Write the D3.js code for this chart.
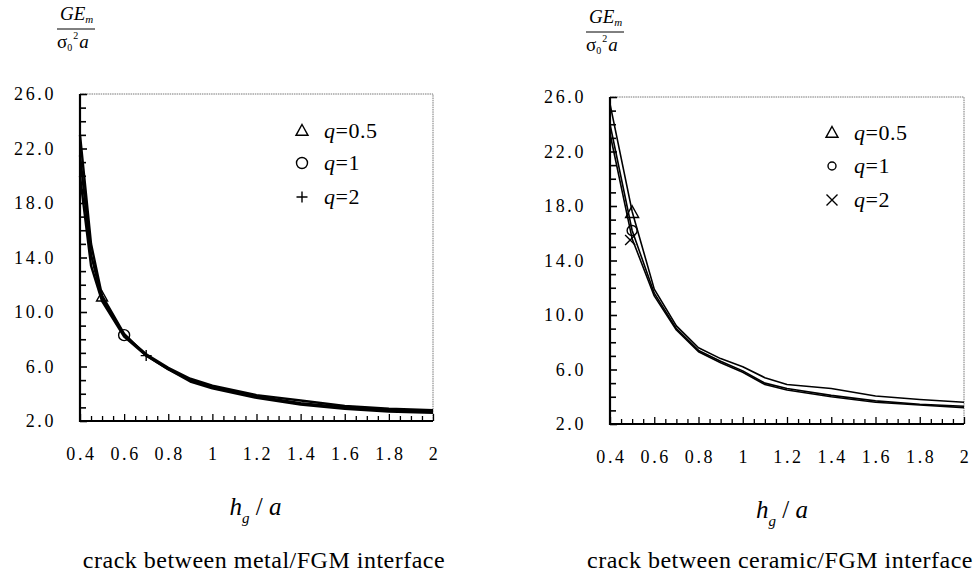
<!DOCTYPE html>
<html><head><meta charset="utf-8">
<script src="https://cdn.jsdelivr.net/npm/d3@7"></script>
<style>
body{margin:0;background:#fff;}
svg{display:block;}
text{font-family:"Liberation Serif","Times New Roman",serif;fill:#000;}
</style></head>
<body><svg id="c" width="977" height="578"></svg>
<script>
// ---- data ----
const xTicks = [0.4,0.6,0.8,1,1.2,1.4,1.6,1.8,2];
const xTickLabels = ["0.4","0.6","0.8","1","1.2","1.4","1.6","1.8","2"];
const yTicks = [2,6,10,14,18,22,26];
const yTickLabels = ["2.0","6.0","10.0","14.0","18.0","22.0","26.0"];
const seriesNames = ["q=0.5","q=1","q=2"];

// metal/FGM interface
const metalX = [0.4,0.45,0.5,0.6,0.7,0.8,0.9,1.0,1.2,1.4,1.6,1.8,2.0];
const metalQ05 = [23.0,15.0,11.2,8.4,6.8,5.8,5.0,4.5,3.8,3.3,3.0,2.8,2.7];
const metalQ1  = [21.5,14.2,11.0,8.3,6.9,5.9,5.1,4.6,3.9,3.5,3.1,2.9,2.8];
const metalQ2  = [20.0,13.4,10.8,8.2,6.8,5.8,4.9,4.4,3.7,3.2,2.9,2.7,2.6];
const metalMarkers = [[0.5,11.1],[0.6,8.3],[0.7,6.8]];

// ceramic/FGM interface
const ceramicX = [0.4,0.5,0.6,0.7,0.8,0.9,1.0,1.1,1.2,1.4,1.6,1.8,2.0];
const ceramicQ05 = [25.5,17.6,11.9,9.2,7.6,6.8,6.2,5.4,4.9,4.6,4.05,3.8,3.6];
const ceramicQ1  = [24.0,16.2,11.6,9.0,7.4,6.6,5.9,5.0,4.6,4.1,3.7,3.45,3.3];
const ceramicQ2  = [23.3,15.6,11.4,8.9,7.3,6.5,5.8,4.9,4.5,4.0,3.6,3.4,3.2];
const ceramicMarkers = [[0.5,17.5],[0.5,16.2],[0.5,15.5]];

const captions = ["crack between metal/FGM interface","crack between ceramic/FGM interface"];

// ---- drawing ----
const svg = d3.select("#c");

function drawPanel(p){
  const g = svg.append("g");
  const x = d3.scaleLinear().domain([0.4,2]).range([p.x0,p.x1]);
  const y = d3.scaleLinear().domain([2,26]).range([p.y1,p.y0]);

  // top/right dotted frame
  g.append("path").attr("d",`M${p.x0},${p.y0}H${p.x1}V${p.y1}`)
    .attr("fill","none").attr("stroke","#777").attr("stroke-width",1).attr("stroke-dasharray","1.5,0.8");

  // ticks
  const yMinor = d3.range(3,26,1).filter(v=>(v-2)%4!==0);
  g.append("g").attr("transform",`translate(${p.x0},0)`)
    .call(d3.axisLeft(y).tickValues(yMinor).tickSize(-6).tickFormat(""))
    .call(a=>a.select(".domain").remove())
    .selectAll("line").attr("stroke","#000").attr("stroke-width",1.6);
  g.append("g").attr("transform",`translate(${p.x0},0)`)
    .call(d3.axisLeft(y).tickValues(yTicks).tickSize(-7).tickFormat(""))
    .call(a=>a.select(".domain").remove())
    .selectAll("line").attr("stroke","#000").attr("stroke-width",1.6);
  const xMinor = d3.range(0,33).map(i=>0.4+i*0.05).filter((v,i)=>i%4!==0);
  g.append("g").attr("transform",`translate(0,${p.y1})`)
    .call(d3.axisBottom(x).tickValues(xMinor).tickSize(-5).tickFormat(""))
    .call(a=>a.select(".domain").remove())
    .selectAll("line").attr("stroke","#000").attr("stroke-width",1.3);
  g.append("g").attr("transform",`translate(0,${p.y1})`)
    .call(d3.axisBottom(x).tickValues(xTicks).tickSize(-7).tickFormat(""))
    .call(a=>a.select(".domain").remove())
    .selectAll("line").attr("stroke","#000").attr("stroke-width",1.3);

  // axes lines
  g.append("path").attr("d",`M${p.x0},${p.y0}V${p.y1}H${p.x1}`)
    .attr("fill","none").attr("stroke","#000").attr("stroke-width",2.2);

  // tick labels
  g.selectAll(".yl").data(yTicks).join("text")
    .attr("x",p.x0-24).attr("y",v=>y(v)+6)
    .attr("text-anchor","end").attr("font-size",18).attr("letter-spacing","2.6px")
    .text((v,i)=>yTickLabels[i]);
  g.selectAll(".xl").data(xTicks).join("text")
    .attr("x",v=>x(v)+1.5).attr("y",p.y1+39)
    .attr("text-anchor","middle").attr("font-size",18).attr("letter-spacing","2.6px")
    .text((v,i)=>xTickLabels[i]);

  // curves
  const line = d3.line().x(d=>x(d[0])).y(d=>y(d[1]));
  p.series.forEach(s=>{
    g.append("path").datum(p.xs.map((xv,i)=>[xv,s[i]]))
      .attr("d",line).attr("fill","none").attr("stroke","#000")
      .attr("stroke-width",p.lw).attr("stroke-linejoin","round");
  });

  // markers
  function drawMarker(type,cx,cy,s){
    if(type==="tri"){
      const h=s*0.9, w=s;
      g.append("path").attr("d",`M${cx},${cy-h*0.6}L${cx+w/2},${cy+h*0.4}L${cx-w/2},${cy+h*0.4}Z`)
        .attr("fill","none").attr("stroke","#000").attr("stroke-width",1.4);
    } else if(type==="circ"){
      g.append("circle").attr("cx",cx).attr("cy",cy).attr("r",s/2)
        .attr("fill","none").attr("stroke","#000").attr("stroke-width",1.4);
    } else if(type==="plus"){
      g.append("path").attr("d",`M${cx-s/2},${cy}H${cx+s/2}M${cx},${cy-s/2}V${cy+s/2}`)
        .attr("stroke","#000").attr("stroke-width",1.4);
    } else {
      g.append("path").attr("d",`M${cx-s/2},${cy-s/2}L${cx+s/2},${cy+s/2}M${cx+s/2},${cy-s/2}L${cx-s/2},${cy+s/2}`)
        .attr("stroke","#000").attr("stroke-width",1.4);
    }
  }
  p.markers.forEach((m,i)=>drawMarker(p.mtypes[i],x(m[0])+(p.mdx[i]||0),y(m[1]),p.msize[i]));

  // legend
  seriesNames.forEach((nm,i)=>{
    const ly = p.legY[i];
    drawMarker(p.mtypes[i],p.legX,ly-7,p.legSize[i]);
    const t = g.append("text").attr("x",p.legX+22).attr("y",ly).attr("font-size",22).attr("letter-spacing","0.5px");
    t.append("tspan").attr("font-style","italic").text(nm.slice(0,1));
    t.append("tspan").text(nm.slice(1));
  });

  // y-axis label (fraction)
  const fx = p.fracX;
  const f1 = g.append("text").attr("x",fx+3).attr("y",p.fracY-9).attr("font-size",19).attr("font-style","italic");
  f1.append("tspan").text("GE");
  f1.append("tspan").attr("font-size",11).attr("dy",3).text("m");
  g.append("line").attr("x1",fx).attr("x2",fx+38).attr("y1",p.fracY).attr("y2",p.fracY)
    .attr("stroke","#000").attr("stroke-width",1);
  const f2 = g.append("text").attr("x",fx).attr("y",p.fracY+19).attr("font-size",19);
  f2.append("tspan").text("σ");
  f2.append("tspan").attr("font-size",10).attr("dy",3).text("0");
  f2.append("tspan").attr("font-size",10).attr("dy",-12).attr("dx",1).text("2");
  f2.append("tspan").attr("font-style","italic").attr("dy",9).attr("dx",1).text("a");

  // x-axis title
  const cx = (p.x0+p.x1)/2 + p.titleDx;
  const xt = g.append("text").attr("x",cx).attr("y",p.y1+94).attr("text-anchor","middle")
    .attr("font-size",25).attr("font-style","italic");
  xt.append("tspan").text("h");
  xt.append("tspan").attr("font-size",15).attr("dy",8).text("g");
  xt.append("tspan").attr("dy",-8).attr("font-style","normal").text("  /  ");
  xt.append("tspan").text("a");

  // caption
  g.append("text").attr("x",p.capX).attr("y",568).attr("text-anchor","middle")
    .attr("font-size",24).attr("letter-spacing","0.5px").text(p.caption);
}

drawPanel({
  x0:80,x1:433,y0:94,y1:421,
  xs:metalX, series:[metalQ05,metalQ1,metalQ2], lw:2.4,
  markers:metalMarkers, mtypes:["tri","circ","plus"], msize:[11,11,11], mdx:[0,0,0],
  legX:302, legY:[138,170,204], legSize:[12,11,11],
  fracX:57, fracY:29, titleDx:-1, capX:264, caption:captions[0]
});
drawPanel({
  x0:610,x1:964,y0:97,y1:424,
  xs:ceramicX, series:[ceramicQ05,ceramicQ1,ceramicQ2], lw:1.6,
  markers:ceramicMarkers, mtypes:["tri","circ","x"], msize:[13,10,10], mdx:[0,0,-2],
  legX:832, legY:[140,173,207], legSize:[12,8,11],
  fracX:586, fracY:32, titleDx:-5, capX:780, caption:captions[1]
});
</script></body></html>
